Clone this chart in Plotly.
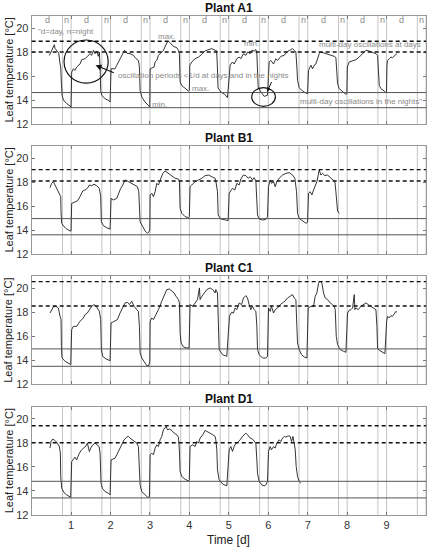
import plotly.graph_objects as go

# ---- data (time in days, leaf temperature in degC) ----
days_a = [0.447, 0.532, 0.574, 0.591, 0.634, 0.685, 0.719, 0.736, 0.753, 0.770, 0.804, 0.888, 0.973, 0.998,
          1.014, 1.056, 1.099, 1.141, 1.226, 1.268, 1.353, 1.411, 1.48, 1.52, 1.565, 1.607, 1.65, 1.691, 1.716, 1.734, 1.75, 1.777, 1.861, 1.945, 1.987,
          2.013, 2.114, 2.157, 2.241, 2.325, 2.355, 2.411, 2.495, 2.58, 2.647, 2.706, 2.732, 2.749, 2.792, 2.876, 2.96, 2.995,
          3.003, 3.104, 3.13, 3.172, 3.214, 3.256, 3.34, 3.426, 3.467, 3.528, 3.594, 3.68, 3.721, 3.746, 3.764, 3.807, 3.891, 3.975, 3.998,
          4.01, 4.06, 4.145, 4.229, 4.314, 4.398, 4.483, 4.567, 4.652, 4.69, 4.71, 4.725, 4.80, 4.90, 4.965,
          5.033, 5.092, 5.135, 5.202, 5.262, 5.304, 5.371, 5.431, 5.473, 5.541, 5.583, 5.642, 5.685, 5.71, 5.744, 5.811, 5.896, 5.98,
          6.023, 6.065, 6.133, 6.192, 6.234, 6.319, 6.404, 6.471, 6.531, 6.573, 6.615, 6.657, 6.7, 6.725, 6.742, 6.784, 6.869, 6.954, 6.996,
          7.021, 7.08, 7.123, 7.165, 7.207, 7.25, 7.292, 7.334, 7.419, 7.503, 7.588, 7.673, 7.715, 7.74, 7.757, 7.8, 7.884, 7.969, 7.994,
          8.005, 8.053, 8.138, 8.223, 8.307, 8.392, 8.476, 8.561, 8.645, 8.73, 8.772, 8.798, 8.815, 8.857, 8.942, 8.984, 8.998,
          9.01, 9.026, 9.069, 9.111, 9.153, 9.196, 9.238, 9.263]
temp_a = [17.72, 18.4, 18.6, 18.3, 18.1, 17.9, 17.0, 16.75, 15.4, 14.4, 14.0, 13.7, 13.5, 13.4,
          16.33, 16.6, 16.47, 16.75, 17.0, 17.36, 17.44, 17.64, 17.86, 17.72, 18.14, 17.86, 18.06, 17.64, 18.0, 16.75, 14.8, 14.4, 14.1, 13.97, 13.83,
          16.6, 16.6, 16.9, 17.44, 18.0, 18.14, 17.9, 17.86, 17.72, 17.44, 17.3, 16.75, 14.8, 14.25, 13.83, 13.47, 13.42,
          16.6, 16.75, 17.17, 17.3, 17.72, 17.86, 18.14, 18.75, 18.9, 18.7, 18.47, 18.36, 18.14, 17.86, 15.5, 15.2, 15.0, 14.75, 14.8,
          16.9, 17.17, 17.44, 17.58, 17.8, 18.1, 18.2, 18.28, 18.14, 18.1, 16.75, 15.0, 14.67, 14.45, 14.2,
          16.9, 17.17, 17.0, 17.44, 17.58, 17.44, 17.86, 17.72, 18.0, 17.86, 18.14, 18.08, 18.2, 17.86, 15.08, 14.67, 14.3, 14.4,
          17.17, 17.3, 17.0, 17.44, 17.3, 17.64, 17.72, 18.0, 18.14, 18.2, 18.28, 18.14, 18.0, 16.75, 15.64, 15.03, 14.75, 14.58, 14.53,
          16.47, 16.9, 16.6, 16.9, 17.0, 17.44, 17.86, 18.0, 17.92, 17.86, 17.72, 17.64, 17.53, 16.2, 15.36, 14.94, 14.67, 14.47, 14.53,
          16.75, 17.17, 17.25, 17.36, 17.58, 17.86, 18.14, 18.08, 18.0, 17.86, 17.72, 16.2, 15.22, 14.94, 14.75, 14.58, 14.67,
          16.9, 17.3, 17.44, 17.58, 17.53, 17.72, 17.8, 17.86]

days_b = [0.464, 0.507, 0.549, 0.591, 0.651, 0.702, 0.736, 0.744, 0.761, 0.82, 0.888, 0.973, 0.998,
          1.014, 1.099, 1.158, 1.226, 1.294, 1.353, 1.411, 1.463, 1.52, 1.581, 1.65, 1.716, 1.75, 1.767, 1.819, 1.903, 1.987,
          2.013, 2.072, 2.157, 2.199, 2.258, 2.309, 2.368, 2.453, 2.537, 2.622, 2.681, 2.715, 2.732, 2.749, 2.817, 2.876, 2.935, 2.969, 2.995,
          3.003, 3.045, 3.087, 3.13, 3.172, 3.214, 3.256, 3.324, 3.383, 3.467, 3.552, 3.637, 3.721, 3.746, 3.764, 3.807, 3.891, 3.975, 3.998,
          4.017, 4.06, 4.145, 4.229, 4.314, 4.398, 4.483, 4.567, 4.652, 4.669, 4.712, 4.729, 4.796, 4.923, 4.982,
          5.008, 5.05, 5.092, 5.152, 5.202, 5.262, 5.304, 5.371, 5.431, 5.49, 5.541, 5.6, 5.642, 5.685, 5.71, 5.727, 5.769, 5.854, 5.938, 5.98,
          6.006, 6.048, 6.082, 6.133, 6.175, 6.218, 6.277, 6.361, 6.446, 6.531, 6.615, 6.674, 6.717, 6.742, 6.784, 6.869, 6.954, 6.996,
          7.021, 7.064, 7.106, 7.148, 7.19, 7.233, 7.292, 7.334, 7.377, 7.436, 7.503, 7.571, 7.63, 7.69, 7.715, 7.732, 7.757, 7.8]
temp_b = [17.53, 17.89, 18.03, 17.75, 17.47, 17.06, 16.78, 15.53, 14.56, 14.28, 14.08, 13.92, 13.92,
          16.22, 16.36, 16.42, 16.78, 17.25, 17.33, 17.47, 17.75, 17.69, 17.81, 17.69, 17.47, 16.78, 14.69, 14.36, 14.19, 14.08,
          16.64, 16.5, 16.64, 17.06, 17.47, 17.75, 18.17, 18.03, 17.89, 17.75, 17.61, 17.19, 15.39, 14.69, 14.28, 13.92, 13.72, 13.81, 14.0,
          16.92, 17.06, 16.78, 17.19, 17.89, 17.75, 18.17, 18.72, 18.92, 18.72, 18.53, 18.31, 18.25, 18.08, 15.81, 15.39, 15.11, 15.03, 15.11,
          17.61, 17.75, 18.03, 18.17, 18.31, 18.53, 18.58, 18.44, 18.31, 18.08, 17.19, 15.25, 14.92, 14.83, 14.78,
          17.06, 17.33, 17.47, 17.33, 17.89, 17.75, 18.25, 18.58, 18.53, 18.31, 18.44, 18.17, 18.36, 18.08, 16.36, 15.25, 14.92, 14.83, 14.89, 15.11,
          17.61, 18.17, 17.89, 18.03, 17.61, 18.03, 18.31, 18.58, 18.72, 18.78, 18.58, 18.31, 17.19, 15.39, 14.97, 14.78, 14.56, 14.64,
          17.06, 17.19, 16.92, 17.33, 17.75, 18.03, 19.0, 18.58, 18.72, 18.53, 18.58, 18.36, 18.17, 18.03, 17.19, 16.08, 15.58, 15.39]

days_c = [0.464, 0.507, 0.549, 0.617, 0.676, 0.719, 0.744, 0.753, 0.77, 0.846, 0.931, 0.99,
          1.014, 1.056, 1.141, 1.226, 1.31, 1.353, 1.411, 1.463, 1.52, 1.581, 1.65, 1.716, 1.75, 1.767, 1.8, 1.886, 1.987,
          2.013, 2.089, 2.173, 2.241, 2.309, 2.368, 2.427, 2.478, 2.537, 2.596, 2.664, 2.706, 2.732, 2.749, 2.792, 2.876, 2.918, 2.969, 2.995,
          3.003, 3.045, 3.087, 3.13, 3.172, 3.214, 3.299, 3.358, 3.426, 3.493, 3.552, 3.612, 3.662, 3.721, 3.746, 3.764, 3.789, 3.849, 3.933, 3.992,
          4.017, 4.084, 4.145, 4.204, 4.254, 4.271, 4.314, 4.373, 4.441, 4.525, 4.592, 4.652, 4.669, 4.712, 4.737, 4.754, 4.839, 4.948,
          5.016, 5.067, 5.118, 5.16, 5.202, 5.262, 5.321, 5.371, 5.431, 5.473, 5.515, 5.558, 5.6, 5.642, 5.685, 5.71, 5.727, 5.769, 5.854, 5.938, 5.98,
          6.006, 6.048, 6.082, 6.133, 6.175, 6.234, 6.302, 6.361, 6.42, 6.488, 6.556, 6.615, 6.657, 6.7, 6.725, 6.742, 6.784, 6.843, 6.911, 6.979,
          7.013, 7.08, 7.148, 7.19, 7.233, 7.275, 7.317, 7.36, 7.402, 7.444, 7.503, 7.571, 7.63, 7.673, 7.698, 7.724, 7.757, 7.825, 7.91, 7.969,
          8.011, 8.053, 8.096, 8.138, 8.18, 8.197, 8.223, 8.282, 8.349, 8.417, 8.476, 8.535, 8.603, 8.671, 8.73, 8.755, 8.772, 8.815, 8.899, 8.959,
          9.001, 9.026, 9.069, 9.111, 9.153, 9.196, 9.238, 9.263]
temp_c = [17.94, 18.22, 18.44, 18.5, 18.36, 17.67, 17.39, 15.17, 14.19, 13.92, 13.72, 13.64,
          16.56, 16.83, 16.83, 17.25, 17.53, 17.81, 17.94, 18.22, 18.5, 18.64, 18.44, 18.08, 17.39, 14.89, 14.33, 14.11, 13.97,
          17.11, 17.25, 17.39, 17.94, 18.36, 18.78, 18.83, 18.64, 18.92, 18.5, 18.22, 18.08, 16.83, 14.61, 14.19, 13.78, 13.56, 13.56, 13.92,
          17.25, 17.53, 17.39, 17.67, 17.94, 18.22, 18.92, 19.39, 19.89, 19.94, 19.75, 19.61, 19.33, 19.06, 18.78, 16.28, 15.44, 15.11, 15.03, 15.03,
          18.64, 18.5, 18.78, 19.06, 20.03, 19.06, 19.33, 19.61, 19.89, 20.03, 19.89, 19.61, 19.89, 19.61, 16.83, 14.89, 14.47, 14.33,
          17.67, 18.0, 17.94, 18.36, 18.22, 18.78, 18.64, 19.19, 19.39, 19.19, 18.64, 18.22, 18.5, 18.22, 18.08, 16.83, 14.89, 14.47, 14.19, 14.19, 14.33,
          18.36, 18.08, 18.5, 17.94, 18.22, 18.36, 18.64, 18.78, 18.92, 19.19, 19.33, 19.47, 19.19, 19.06, 16.83, 15.44, 14.89, 14.47, 14.28, 14.19,
          18.36, 18.5, 18.5, 19.33, 19.61, 20.44, 20.58, 20.44, 19.61, 19.19, 19.06, 18.78, 18.64, 18.5, 18.22, 16.0, 15.31, 14.89, 14.75, 14.67,
          17.94, 18.17, 18.22, 18.36, 19.47, 18.22, 18.36, 18.22, 18.5, 18.64, 18.78, 18.64, 18.5, 18.36, 18.22, 16.83, 15.03, 14.83, 14.67, 14.56,
          17.25, 17.67, 17.53, 17.72, 17.67, 17.94, 18.08, 18.0]

days_d = [0.464, 0.49, 0.532, 0.591, 0.651, 0.702, 0.727, 0.736, 0.761, 0.82, 0.888, 0.99,
          1.014, 1.056, 1.099, 1.141, 1.209, 1.268, 1.328, 1.378, 1.411, 1.463, 1.497, 1.548, 1.607, 1.666, 1.708, 1.734, 1.759, 1.793, 1.861, 1.945, 1.987,
          2.013, 2.114, 2.157, 2.199, 2.241, 2.283, 2.343, 2.411, 2.453, 2.495, 2.562, 2.622, 2.664, 2.706, 2.732, 2.749, 2.792, 2.876, 2.943, 2.986,
          3.003, 3.045, 3.087, 3.13, 3.172, 3.214, 3.256, 3.299, 3.34, 3.409, 3.443, 3.493, 3.552, 3.612, 3.68, 3.721, 3.746, 3.764, 3.807, 3.891, 3.975, 3.998,
          4.017, 4.084, 4.145, 4.187, 4.229, 4.271, 4.339, 4.398, 4.457, 4.525, 4.592, 4.652, 4.669, 4.695, 4.712, 4.754, 4.839, 4.948,
          5.008, 5.05, 5.092, 5.135, 5.177, 5.219, 5.287, 5.346, 5.388, 5.431, 5.473, 5.541, 5.6, 5.642, 5.685, 5.71, 5.727, 5.769, 5.837, 5.896, 5.938, 5.98,
          6.006, 6.048, 6.082, 6.133, 6.175, 6.218, 6.277, 6.319, 6.361, 6.404, 6.446, 6.505, 6.556, 6.59, 6.624, 6.657, 6.683, 6.708, 6.742, 6.784, 6.827]
temp_d = [17.56, 18.11, 18.31, 18.19, 17.97, 17.69, 17.14, 15.19, 14.22, 13.86, 13.67, 13.47,
          16.44, 16.58, 16.81, 16.58, 17.14, 17.42, 17.56, 17.75, 17.97, 17.28, 17.56, 17.83, 17.97, 17.83, 17.69, 17.14, 14.64, 14.22, 13.94, 13.81, 13.67,
          16.58, 16.72, 17.0, 17.28, 17.69, 17.97, 18.25, 18.47, 18.53, 18.39, 18.25, 18.11, 17.97, 17.69, 16.03, 14.5, 13.94, 13.67, 13.47, 13.53,
          17.0, 17.14, 17.0, 17.56, 17.83, 17.69, 18.25, 18.53, 19.08, 19.36, 19.08, 19.14, 19.03, 18.81, 18.67, 18.47, 17.42, 15.61, 15.19, 14.97, 14.83, 14.92,
          17.69, 17.83, 17.69, 18.11, 17.97, 18.39, 18.67, 19.03, 18.94, 18.81, 18.67, 18.53, 18.25, 17.42, 15.75, 14.92, 14.58, 14.42,
          17.42, 17.69, 17.28, 17.69, 17.97, 18.03, 18.25, 18.53, 18.67, 18.81, 18.67, 18.39, 18.31, 18.11, 17.97, 16.58, 15.47, 14.78, 14.5, 14.42, 14.5, 14.78,
          17.28, 17.69, 17.42, 17.69, 17.56, 17.97, 18.25, 18.11, 18.39, 18.53, 18.47, 18.58, 18.53, 18.11, 18.53, 17.97, 17.42, 16.03, 15.19, 14.78, 14.64]

plant_names = ["Plant A1", "Plant B1", "Plant C1", "Plant D1"]
# multi-day extremes: day max / day min (dashed), night max / night min (solid)
day_upper = [18.9, 19.03, 20.56, 19.42]
day_lower = [18.0, 18.08, 18.52, 18.0]
night_upper = [14.62, 14.95, 14.95, 14.8]
night_lower = [13.36, 13.6, 13.5, 13.42]
night_start = [0.78, 1.78, 2.78, 3.78, 4.78, 5.78, 6.78, 7.78, 8.78, 9.78]
night_end = [1, 2, 3, 4, 5, 6, 7, 8, 9, 10]
day_mid = [0.39, 1.39, 2.39, 3.39, 4.39, 5.39, 6.39, 7.39, 8.39, 9.39]
night_mid = [0.89, 1.89, 2.89, 3.89, 4.89, 5.89, 6.89, 7.89, 8.89, 9.89]

W, H = 429, 550
FONT = "Liberation Sans, Arial, sans-serif"
GREY_TXT = "#8a8a8a"

# plot boxes in pixels (top, bottom)
boxes = [(16, 124), (146, 254), (276.3, 384.3), (406.7, 515)]
x_dom = [31.7 / W, 426 / W]

series = [(days_a, temp_a), (days_b, temp_b), (days_c, temp_c), (days_d, temp_d)]

fig = go.Figure()
annotations = []
shapes = []

for i, (name, (dd, tt)) in enumerate(zip(plant_names, series)):
    sfx = "" if i == 0 else str(i + 1)
    xa, ya = "x" + sfx, "y" + sfx
    top, bot = boxes[i]
    y_dom = [1 - bot / H, 1 - top / H]

    fig.add_trace(go.Scatter(x=dd, y=tt, mode="lines", xaxis=xa, yaxis=ya,
                             line=dict(color="#1e1e1e", width=0.9),
                             showlegend=False, hoverinfo="skip"))

    fig.layout["xaxis" + sfx] = dict(
        domain=x_dom, anchor=ya, range=[0, 10], tickvals=list(range(1, 10)),
        showticklabels=(i == 3), ticks="inside", ticklen=3, tickcolor="#777",
        showline=True, linecolor="#999", linewidth=1, mirror="ticks",
        showgrid=False, zeroline=False, automargin=False,
        tickfont=dict(family=FONT, size=11, color="#333"))
    fig.layout["yaxis" + sfx] = dict(
        domain=y_dom, anchor=xa, range=[12, 21], tickvals=[12, 14, 16, 18, 20],
        ticks="inside", ticklen=3, tickcolor="#777",
        showline=True, linecolor="#999", linewidth=1, mirror="ticks",
        showgrid=False, zeroline=False, automargin=False,
        tickfont=dict(family=FONT, size=11, color="#333"))

    # day / night boundaries
    for t0, t1 in zip(night_start, night_end):
        for t in (t0, t1):
            shapes.append(dict(type="line", xref=xa, yref=ya + " domain", x0=t, x1=t, y0=0, y1=1,
                               line=dict(color="#c4c4c4", width=1), layer="below"))
    # multi-day extremes
    for lvl in (day_upper[i], day_lower[i]):
        shapes.append(dict(type="line", xref=xa + " domain", yref=ya, x0=0, x1=1, y0=lvl, y1=lvl,
                           line=dict(color="#111", width=1.4, dash="4px,3px")))
    for lvl in (night_upper[i], night_lower[i]):
        shapes.append(dict(type="line", xref=xa + " domain", yref=ya, x0=0, x1=1, y0=lvl, y1=lvl,
                           line=dict(color="#555", width=1)))

    # panel title and y label
    annotations.append(dict(text="<b>" + name + "</b>", xref="paper", yref="paper",
                            x=(x_dom[0] + x_dom[1]) / 2, y=1 - (top - 8) / H,
                            xanchor="center", yanchor="middle",
                            showarrow=False, font=dict(family=FONT, size=12, color="#111")))
    annotations.append(dict(text="Leaf temperature [°C]", xref="paper", yref="paper",
                            x=8.5 / W, y=1 - (top + bot) / 2 / H, textangle=-90,
                            xanchor="center", yanchor="middle",
                            showarrow=False, font=dict(family=FONT, size=11, color="#222")))

# x axis title
annotations.append(dict(text="Time [d]", xref="paper", yref="paper", x=(x_dom[0] + x_dom[1]) / 2,
                        y=1 - 540 / H, xanchor="center", yanchor="middle",
                        showarrow=False, font=dict(family=FONT, size=12, color="#222")))

# day / night markers on top of panel A
for xm in day_mid:
    annotations.append(dict(text="d", x=xm, y=20.65, xref="x", yref="y", showarrow=False,
                            xanchor="center", yanchor="middle",
                            font=dict(family=FONT, size=9, color=GREY_TXT)))
for xm in night_mid:
    annotations.append(dict(text="n", x=xm, y=20.65, xref="x", yref="y", showarrow=False,
                            xanchor="center", yanchor="middle",
                            font=dict(family=FONT, size=9, color=GREY_TXT)))

# explanatory notes in panel A
small = dict(family=FONT, size=8, color=GREY_TXT)
notes = [
    ('"d=day, n=night', 0.1, 19.72, "left"),
    ("max.", 3.15, 19.3, "left"),
    ("min.", 5.34, 18.72, "left"),
    ("multi-day oscillations at days", 9.93, 18.62, "right"),
    ("oscillation periods <1/d at days and in the nights", 2.14, 16.0, "left"),
    ("max.", 4.02, 14.92, "left"),
    ("min.", 3.0, 13.62, "left"),
    ('multi-day oscillations in the nights"', 9.94, 13.9, "right"),
]
for txt, xx, yy, anc in notes:
    annotations.append(dict(text=txt, x=xx, y=yy, xref="x", yref="y", xanchor=anc,
                            yanchor="middle", showarrow=False, font=small))

# arrows pointing at the circled areas
annotations.append(dict(text="", x=1.62, y=16.9, ax=2.12, ay=16.22, xref="x", yref="y",
                        axref="x", ayref="y", showarrow=True, arrowhead=2, arrowsize=1,
                        arrowwidth=1.2, arrowcolor="#111"))
annotations.append(dict(text="", x=5.97, y=14.68, ax=6.1, ay=15.62, xref="x", yref="y",
                        axref="x", ayref="y", showarrow=True, arrowhead=2, arrowsize=0.8,
                        arrowwidth=1, arrowcolor="#111"))
shapes.append(dict(type="circle", xref="x", yref="y", x0=0.82, x1=1.94, y0=15.4, y1=19.0,
                   line=dict(color="#111", width=1.2)))
shapes.append(dict(type="circle", xref="x", yref="y", x0=5.58, x1=6.18, y0=13.47, y1=15.03,
                   line=dict(color="#111", width=1.2)))

fig.update_layout(width=W, height=H, autosize=False, template="none",
                  margin=dict(l=0, r=0, t=0, b=0),
                  paper_bgcolor="white", plot_bgcolor="white",
                  shapes=shapes, annotations=annotations)

# drop the browser's default 8px body margin so the figure sits at the window origin
fig.write_html("out.html", config={"displayModeBar": False},
               post_script="document.body.style.margin='0';")
